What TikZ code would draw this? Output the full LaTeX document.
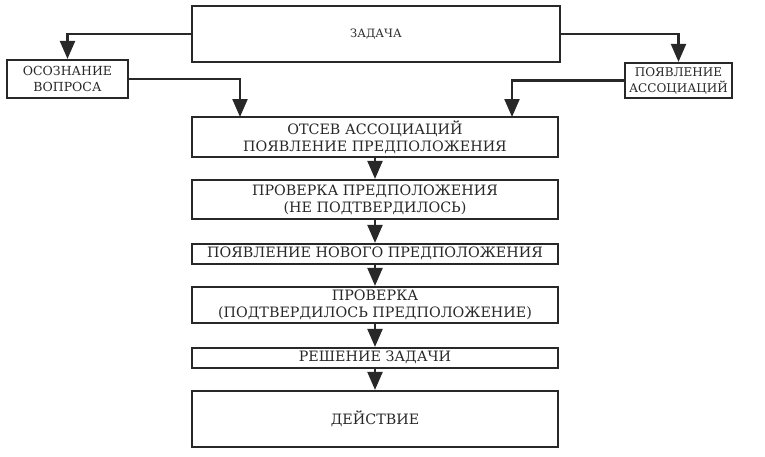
\documentclass[tikz,border=0pt]{standalone}
\usepackage{fontspec}
\setmainfont{DejaVu Serif}
\usepackage{tikz}
\usetikzlibrary{arrows.meta, positioning, calc}
\definecolor{InkDark}{RGB}{40,40,40}

\begin{document}
\begin{tikzpicture}[x=1pt,y=-1pt,
    box/.style={draw=InkDark,fill=white,line width=2.2pt,inner xsep=1pt,
                inner ysep=0.3pt,font=\fontsize{14.3}{17}\selectfont,
                text=InkDark,align=center},
    thin/.style={box,text height=10.5pt,text depth=3pt},
    side/.style={box,font=\fontsize{12.5}{16}\selectfont},
    arr/.style={-{Triangle[width=15pt,length=18pt]},InkDark,line width=2.2pt}
  ]
    \useasboundingbox (0,0) rectangle (765,456);

    % top row
    \node[box,minimum width=368pt,minimum height=56pt,
          font=\fontsize{11.5}{14}\selectfont] (zadacha) at (376,34) {ЗАДАЧА};
    \node[side,minimum width=121pt,minimum height=38pt] (osozn) at (67.5,79)
      {ОСОЗНАНИЕ\\ВОПРОСА};
    \node[side,minimum width=107pt,minimum height=35pt,
          font=\fontsize{12}{16}\selectfont] (assoc) at (678.5,80.5)
      {ПОЯВЛЕНИЕ\\АССОЦИАЦИЙ};

    % main column
    \node[box,minimum width=366pt,minimum height=40pt] (otsev) at (375,137)
      {ОТСЕВ АССОЦИАЦИЙ\\ПОЯВЛЕНИЕ ПРЕДПОЛОЖЕНИЯ};
    \node[box,minimum width=366pt,minimum height=39pt] (prov1) at (375,199.5)
      {ПРОВЕРКА ПРЕДПОЛОЖЕНИЯ\\(НЕ ПОДТВЕРДИЛОСЬ)};
    \node[thin,minimum width=366pt,minimum height=20pt] (novoe) at (375,254)
      {ПОЯВЛЕНИЕ НОВОГО ПРЕДПОЛОЖЕНИЯ};
    \node[box,minimum width=366pt,minimum height=36pt] (prov2) at (375,305)
      {ПРОВЕРКА\\(ПОДТВЕРДИЛОСЬ ПРЕДПОЛОЖЕНИЕ)};
    \node[thin,minimum width=366pt,minimum height=20pt] (reshen) at (375,358)
      {РЕШЕНИЕ ЗАДАЧИ};
    \node[box,minimum width=366pt,minimum height=56pt] (deistv) at (375,419)
      {ДЕЙСТВИЕ};

    \coordinate (inL) at (240,117);
    \coordinate (inR) at (512,117);

    \draw[arr] (zadacha.west) -| (osozn.north);
    \draw[arr] (zadacha.east) -| (assoc.north);
    \draw[arr] (osozn.east) -| (inL);
    \draw[arr] (assoc.west) -| (inR);
    \draw[arr] (otsev)--(prov1); \draw[arr] (prov1)--(novoe);
    \draw[arr] (novoe)--(prov2); \draw[arr] (prov2)--(reshen);
    \draw[arr] (reshen)--(deistv);
  \end{tikzpicture}
\end{document}
